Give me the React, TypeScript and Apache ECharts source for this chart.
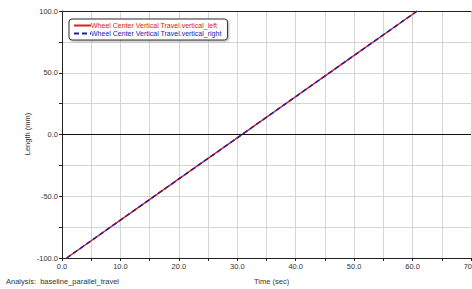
import React, { useEffect, useRef } from "react";
import * as echarts from "echarts";

const seriesNames = [
  "Wheel Center Vertical Travel.vertical_left",
  "Wheel Center Vertical Travel.vertical_right",
];
const timeValues = [0.8, 10, 20, 30, 40, 50, 60.8];
const leftValues = [-100, -69.3, -36, -2.7, 30.7, 64, 100];
const rightValues = [-100, -69.3, -36, -2.7, 30.7, 64, 100];

const FONT = "Liberation Sans, Arial, sans-serif";

export default function App() {
  const ref = useRef<HTMLDivElement>(null);
  useEffect(() => {
    document.body.style.margin = "0";
    const chart = echarts.init(ref.current!, null, { renderer: "svg" });
    const mk = (vals: number[]) => timeValues.map((t, i) => [t, vals[i]]);
    chart.setOption({
      animation: false,
      backgroundColor: "#ffffff",
      textStyle: { fontFamily: FONT },
      grid: { left: 62, top: 11, width: 409, height: 247, outerBoundsMode: "none", containLabel: false },
      legend: {
        orient: "vertical",
        left: 69,
        top: 19,
        backgroundColor: "#ffffff",
        borderColor: "#333",
        borderWidth: 1,
        borderRadius: 3,
        padding: [3, 6, 3, 4],
        itemGap: 1,
        itemWidth: 17,
        itemHeight: 8,
        itemStyle: { opacity: 0 },
        shadowColor: "rgba(0,0,0,0.3)",
        shadowBlur: 2,
        shadowOffsetX: 1,
        shadowOffsetY: 1,
        textStyle: { fontSize: 7, fontFamily: FONT, padding: [0, 0, 0, -5] },
        data: [
          { name: seriesNames[0], textStyle: { color: "#e02020" } },
          { name: seriesNames[1], textStyle: { color: "#2020c0" } },
        ],
      },
      xAxis: [
        {
          type: "value",
          min: 0,
          max: 70,
          interval: 5,
          axisLine: { show: true, onZero: false, lineStyle: { color: "#222", width: 1 } },
          axisTick: { show: true, length: 3, lineStyle: { color: "#222" } },
          axisLabel: {
            fontSize: 7.5,
            color: "#333",
            fontFamily: FONT,
            margin: 4,
            hideOverlap: false,
            formatter: (v: number) => (v % 10 === 0 ? v.toFixed(1) : ""),
          },
          splitLine: { show: true, lineStyle: { color: "#d4d4d4", width: 1 } },
        },
        {
          type: "value",
          position: "top",
          min: 0,
          max: 70,
          axisLine: { show: true, onZero: false, lineStyle: { color: "#222", width: 1 } },
          axisTick: { show: false },
          axisLabel: { show: false },
          splitLine: { show: false },
        },
      ],
      yAxis: {
        type: "value",
        min: -100,
        max: 100,
        interval: 25,
        axisLine: { show: true, onZero: false, lineStyle: { color: "#222", width: 1 } },
        axisTick: { show: true, length: 3, lineStyle: { color: "#222" } },
        axisLabel: {
          fontSize: 7.5,
          color: "#333",
          fontFamily: FONT,
          margin: 4,
          formatter: (v: number) => (v % 50 === 0 ? v.toFixed(1) : ""),
        },
        splitLine: { show: true, lineStyle: { color: "#d4d4d4", width: 1 } },
      },
      graphic: [
        {
          type: "text",
          left: 6,
          top: 277,
          style: { text: "Analysis:  baseline_parallel_travel", fontSize: 7.5, fill: "#333", fontFamily: FONT },
        },
        {
          type: "text",
          left: 254,
          top: 277,
          style: { text: "Time (sec)", fontSize: 7.5, fill: "#333", fontFamily: FONT },
        },
        {
          type: "text",
          x: 27,
          y: 134,
          rotation: Math.PI / 2,
          style: {
            text: "Length (mm)",
            fontSize: 7.5,
            fill: "#333",
            fontFamily: FONT,
            align: "center",
            verticalAlign: "middle",
          },
        },
      ],
      series: [
        {
          name: seriesNames[0],
          type: "line",
          data: mk(leftValues),
          showSymbol: false,
          symbol: "none",
          color: "#e02020",
          lineStyle: { color: "#e02020", width: 1.5 },
          markLine: {
            silent: true,
            symbol: "none",
            label: { show: false },
            lineStyle: { color: "#111", width: 1, type: "solid" },
            data: [{ yAxis: 0 }],
          },
          z: 2,
        },
        {
          name: seriesNames[1],
          type: "line",
          data: mk(rightValues),
          showSymbol: false,
          symbol: "none",
          color: "#2020a0",
          lineStyle: { color: "#2020a0", width: 1.5, type: [5, 3] },
          z: 3,
        },
      ],
    });
    return () => chart.dispose();
  }, []);
  return (
    <div
      ref={ref}
      style={{ position: "absolute", left: 0, top: 0, width: 472, height: 289 }}
    />
  );
}
